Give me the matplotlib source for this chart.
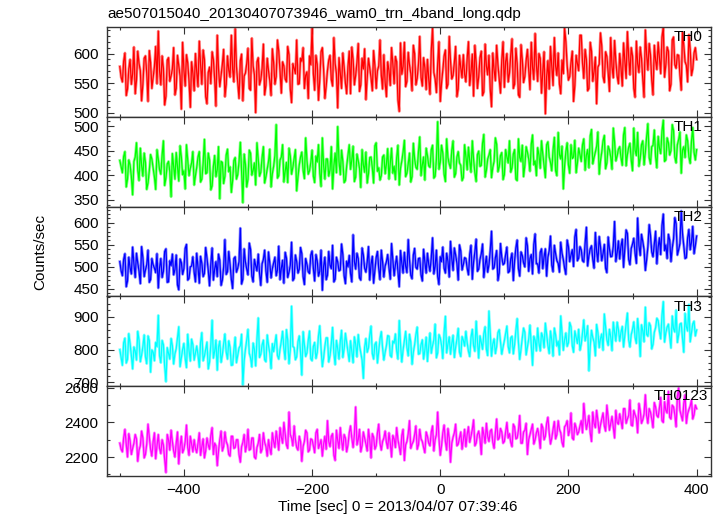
import numpy as np
import matplotlib
matplotlib.use('Agg')
import matplotlib.pyplot as plt
import matplotlib.ticker as mticker

plt.rcParams['font.family'] = ['Liberation Sans', 'DejaVu Sans']

# bin times [sec]; values every 2 s
# (*_even at -500, -496, ..., 400 and *_odd at -498, -494, ..., 398)
time = np.arange(-500, 401, 2)

th0_even = [578, 552, 601, 540, 590, 566, 532, 604, 571, 548, 596, 519, 585, 560, 612,
            638, 547, 575, 528, 593, 562, 610, 541, 580, 506, 572, 598, 553, 586, 537,
            569, 621, 548, 590, 515, 577, 603, 556, 631, 544, 582, 527, 596, 560, 574,
            642, 551, 588, 520, 567, 609, 538, 579, 500, 593, 556, 616, 546, 571, 529,
            585, 561, 604, 533, 579, 552, 598, 517, 575, 623, 549, 587, 541, 569, 596,
            644, 538, 582, 556, 610, 524, 571, 597, 545, 583, 508, 566, 601, 550, 578,
            532, 590, 563, 617, 547, 574, 522, 592, 559, 605, 541, 579, 564, 598, 527,
            571, 610, 549, 586, 502, 565, 619, 553, 581, 537, 600, 558, 629, 545, 576,
            590, 531, 644, 557, 583, 519, 572, 606, 548, 588, 563, 612, 540, 576, 598,
            552, 620, 569, 528, 585, 561, 604, 535, 579, 597, 510, 572, 614, 556, 589,
            543, 600, 567, 625, 548, 583, 526, 590, 561, 607, 539, 577, 634, 553, 592,
            570, 498, 588, 612, 546, 579, 601, 532, 566, 620, 555, 585, 519, 597, 571,
            631, 558, 590, 541, 604, 570, 515, 582, 613, 551, 595, 536, 578, 622, 562,
            600, 545, 587, 637, 564, 596, 526, 583, 611, 557, 640, 572, 598, 530, 589,
            619, 566, 645, 581, 604, 548, 628, 575, 597, 538, 614, 580, 632, 563, 601,
            590]
th0_odd = [560, 587, 529, 574, 548, 611, 555, 583, 520, 592, 567, 605, 541, 578, 549,
           571, 596, 513, 589, 553, 574, 530, 597, 562, 619, 545, 584, 509, 567, 600,
           544, 582, 606, 527, 568, 549, 590, 511, 574, 563, 607, 548, 572, 631, 552,
           578, 524, 599, 562, 583, 541, 626, 564, 586, 547, 575, 530, 592, 554, 608,
           548, 623, 570, 586, 557, 612, 540, 583, 566, 548, 592, 610, 563, 524, 581,
           566, 597, 521, 603, 573, 545, 589, 556, 627, 566, 593, 541, 577, 532, 604,
           611, 547, 585, 536, 592, 608, 559, 575, 537, 580, 571, 623, 540, 551, 586,
           546, 583, 595, 521, 618, 578, 544, 602, 566, 614, 547, 582, 560, 593, 539,
           557, 605, 568, 534, 620, 550, 596, 541, 629, 557, 585, 527, 597, 559, 565,
           592, 546, 599, 614, 541, 593, 529, 616, 564, 540, 601, 554, 581, 533, 620,
           586, 552, 598, 541, 609, 530, 615, 551, 588, 572, 619, 556, 581, 600, 533,
           603, 561, 540, 578, 627, 563, 548, 589, 643, 580, 561, 604, 546, 583, 631,
           584, 607, 537, 619, 553, 594, 577, 635, 561, 603, 568, 627, 559, 587, 549,
           576, 618, 558, 595, 610, 541, 621, 568, 592, 526, 599, 617, 555, 614, 573,
           592, 628, 560, 611, 537, 623, 581, 598, 564, 636, 586, 552, 607, 574, 610]

th1_even = [430, 405, 448, 392, 421, 360, 437, 410, 455, 398, 426, 384, 442, 415, 371,
            433, 402, 470, 395, 428, 356, 419, 446, 388, 437, 409, 462, 399, 425, 380,
            416, 448, 392, 473, 405, 431, 378, 440, 411, 352, 426, 398, 453, 417, 389,
            436, 401, 467, 344, 422, 392, 445, 410, 380, 431, 406, 458, 397, 428, 376,
            418, 503, 399, 437, 386, 426, 455, 402, 434, 368, 421, 447, 393, 430, 409,
            451, 385, 427, 404, 476, 392, 433, 411, 372, 445, 499, 401, 428, 389, 440,
            412, 459, 396, 430, 375, 421, 447, 403, 437, 384, 466, 415, 399, 441, 423,
            392, 455, 418, 436, 380, 429, 471, 404, 445, 397, 433, 412, 478, 421, 390,
            440, 416, 461, 398, 509, 426, 445, 387, 436, 414, 470, 403, 448, 420, 395,
            438, 457, 406, 432, 387, 449, 420, 483, 410, 441, 395, 428, 463, 417, 446,
            401, 437, 470, 415, 452, 389, 436, 461, 420, 447, 408, 482, 429, 456, 414,
            443, 395, 468, 426, 451, 409, 487, 433, 372, 448, 421, 462, 437, 405, 455,
            428, 474, 441, 415, 493, 436, 459, 402, 447, 481, 425, 452, 412, 468, 439,
            458, 420, 497, 442, 465, 409, 451, 487, 434, 470, 447, 505, 423, 461, 438,
            479, 444, 512, 431, 466, 450, 491, 425, 473, 404, 458, 482, 437, 469, 447,
            452]
th1_odd = [417, 438, 376, 431, 397, 428, 466, 389, 420, 445, 371, 409, 433, 396, 452,
           411, 441, 379, 423, 407, 444, 392, 417, 460, 401, 372, 430, 414, 448, 399,
           437, 386, 424, 403, 445, 370, 418, 397, 458, 428, 383, 441, 407, 365, 430,
           392, 427, 409, 443, 376, 451, 400, 425, 466, 398, 436, 384, 412, 453, 403,
           440, 394, 431, 462, 408, 385, 439, 416, 452, 397, 437, 410, 476, 402, 426,
           398, 439, 462, 377, 420, 433, 398, 458, 419, 405, 428, 451, 385, 419, 462,
           431, 387, 443, 414, 452, 406, 384, 436, 415, 460, 408, 390, 437, 403, 454,
           425, 404, 391, 461, 414, 447, 397, 423, 386, 465, 416, 448, 399, 437, 455,
           419, 452, 394, 433, 412, 461, 402, 474, 423, 451, 396, 437, 425, 389, 462,
           411, 429, 470, 405, 442, 418, 465, 396, 433, 452, 416, 476, 407, 440, 391,
           452, 425, 406, 443, 392, 474, 428, 397, 458, 433, 463, 421, 399, 441, 470,
           419, 462, 437, 409, 477, 399, 442, 459, 418, 466, 404, 434, 471, 425, 441,
           462, 410, 452, 480, 423, 447, 488, 429, 470, 413, 459, 437, 496, 429, 453,
           436, 482, 419, 457, 431, 496, 440, 418, 462, 421, 478, 436, 458, 492, 415,
           455, 490, 428, 476, 441, 503, 437, 462, 488, 451, 436, 470, 424, 497, 431]

th2_even = [512, 480, 530, 468, 498, 545, 476, 509, 462, 521, 493, 538, 471, 505, 487,
            452, 519, 490, 541, 466, 503, 482, 527, 448, 510, 496, 551, 474, 502, 488,
            531, 463, 508, 485, 520, 457, 543, 495, 478, 515, 470, 562, 489, 506, 451,
            523, 497, 588, 472, 511, 482, 540, 466, 503, 529, 458, 517, 491, 534, 475,
            509, 480, 547, 497, 463, 520, 488, 556, 474, 512, 495, 530, 460, 506, 485,
            536, 468, 514, 490, 447, 522, 481, 504, 549, 472, 511, 493, 528, 462, 500,
            485, 573, 495, 519, 470, 527, 488, 546, 506, 463, 521, 496, 538, 477, 512,
            498, 553, 480, 524, 455, 509, 533, 487, 516, 473, 542, 495, 520, 468, 511,
            531, 490, 566, 501, 478, 523, 545, 486, 513, 558, 492, 527, 470, 536, 505,
            519, 482, 549, 511, 563, 495, 530, 476, 524, 505, 581, 498, 537, 486, 522,
            508, 545, 490, 531, 514, 561, 479, 526, 500, 548, 519, 484, 575, 507, 533,
            496, 541, 522, 570, 489, 530, 508, 556, 517, 483, 546, 527, 501, 585, 520,
            539, 511, 590, 526, 548, 497, 535, 569, 514, 551, 487, 541, 524, 603, 532,
            518, 563, 540, 576, 505, 552, 531, 611, 526, 558, 492, 546, 572, 523, 581,
            545, 528, 620, 550, 574, 512, 563, 598, 539, 627, 548, 521, 585, 556, 530,
            570]
th2_odd = [491, 517, 455, 522, 484, 507, 531, 490, 546, 478, 505, 465, 519, 497, 530,
           498, 476, 535, 465, 514, 529, 494, 459, 518, 483, 542, 470, 500, 523, 466,
           499, 524, 478, 544, 492, 507, 470, 512, 529, 458, 500, 483, 535, 472, 519,
           488, 512, 461, 541, 495, 554, 479, 517, 491, 486, 507, 538, 465, 509, 496,
           522, 493, 471, 515, 533, 476, 504, 469, 527, 486, 544, 478, 519, 489, 527,
           497, 528, 479, 538, 501, 471, 535, 496, 466, 522, 491, 552, 480, 513, 526,
           466, 512, 531, 475, 543, 497, 511, 470, 524, 492, 535, 471, 512, 502, 528,
           472, 516, 505, 489, 537, 486, 502, 562, 481, 527, 499, 519, 482, 540, 486,
           506, 521, 484, 538, 460, 512, 497, 531, 477, 519, 543, 508, 550, 493, 521,
           497, 529, 472, 534, 490, 517, 552, 504, 488, 537, 495, 521, 469, 553, 505,
           528, 487, 518, 469, 543, 496, 534, 509, 566, 490, 528, 551, 507, 486, 541,
           523, 479, 537, 504, 549, 514, 488, 531, 497, 561, 512, 539, 568, 514, 546,
           514, 553, 502, 541, 517, 578, 512, 546, 530, 497, 568, 523, 547, 512, 559,
           547, 499, 584, 517, 542, 565, 508, 549, 574, 539, 516, 596, 534, 551, 507,
           566, 594, 537, 519, 561, 543, 612, 527, 553, 576, 519, 566, 539, 592, 548]

th3_even = [800, 752, 835, 770, 818, 741, 796, 856, 763, 810, 778, 842, 731, 792, 822,
            905, 760, 815, 702, 788, 834, 756, 803, 870, 774, 819, 745, 797, 832, 768,
            811, 746, 852, 780, 823, 762, 890, 795, 737, 826, 784, 848, 771, 807, 753,
            838, 782, 812, 692, 801, 862, 775, 820, 750, 897, 786, 829, 763, 813, 742,
            794, 845, 771, 826, 803, 861, 757, 933, 806, 778, 842, 722, 815, 790, 857,
            766, 822, 791, 873, 748, 811, 836, 782, 868, 754, 803, 825, 776, 850, 796,
            827, 760, 817, 846, 789, 712, 834, 805, 872, 771, 823, 797, 855, 768, 812,
            841, 777, 820, 796, 889, 762, 828, 806, 847, 755, 815, 869, 788, 830, 799,
            764, 851, 812, 878, 790, 836, 773, 902, 817, 786, 844, 807, 865, 779, 829,
            856, 795, 838, 812, 887, 774, 822, 849, 801, 918, 780, 833, 809, 861, 786,
            827, 872, 790, 841, 815, 895, 770, 836, 853, 807, 875, 752, 829, 866, 796,
            839, 881, 812, 857, 780, 845, 826, 903, 798, 851, 821, 870, 792, 838, 862,
            817, 891, 844, 735, 859, 823, 877, 806, 848, 909, 830, 862, 797, 853, 884,
            826, 871, 845, 912, 808, 862, 837, 895, 779, 858, 930, 841, 873, 816, 867,
            889, 833, 947, 852, 878, 805, 864, 921, 846, 881, 792, 870, 938, 851, 887,
            860]
th3_odd = [776, 821, 759, 849, 782, 808, 768, 829, 783, 845, 757, 828, 799, 766, 809,
           781, 828, 749, 806, 771, 812, 787, 838, 748, 801, 773, 847, 765, 815, 790,
           784, 822, 766, 802, 741, 815, 774, 829, 808, 761, 818, 793, 827, 752, 799,
           760, 805, 847, 766, 829, 789, 747, 801, 832, 776, 814, 769, 845, 789, 818,
           820, 782, 801, 856, 770, 829, 799, 810, 769, 824, 791, 855, 779, 828, 772,
           810, 773, 842, 803, 775, 836, 762, 818, 790, 828, 771, 859, 802, 822, 764,
           795, 839, 778, 812, 768, 807, 792, 844, 788, 816, 759, 833, 805, 792, 843,
           782, 826, 848, 771, 816, 799, 856, 781, 823, 792, 846, 786, 815, 771, 838,
           810, 789, 830, 775, 846, 813, 852, 790, 839, 818, 776, 832, 792, 840, 811,
           821, 779, 862, 795, 826, 842, 801, 870, 782, 846, 817, 788, 852, 823, 808,
           850, 810, 836, 787, 858, 822, 801, 866, 784, 832, 813, 841, 796, 821, 851,
           806, 846, 788, 829, 866, 811, 784, 849, 830, 810, 883, 812, 857, 819, 798,
           852, 827, 873, 811, 837, 781, 852, 834, 798, 871, 813, 839, 884, 826, 862,
           853, 808, 879, 830, 846, 885, 819, 851, 876, 824, 847, 882, 802, 853, 896,
           856, 905, 823, 869, 842, 903, 854, 822, 878, 834, 911, 857, 824, 879, 842]

th0123_even = [2280, 2230, 2360, 2200, 2295, 2250, 2330, 2175, 2265, 2310, 2215, 2390, 2245, 2290, 2190,
               2330, 2220, 2270, 2110, 2300, 2355, 2235, 2280, 2160, 2320, 2245, 2385, 2210, 2275, 2300,
               2225, 2340, 2260, 2195, 2310, 2245, 2370, 2280, 2150, 2300, 2235, 2345, 2270, 2205, 2320,
               2255, 2300, 2170, 2285, 2230, 2360, 2245, 2310, 2190, 2280, 2225, 2340, 2260, 2300, 2215,
               2290, 2350, 2240, 2315, 2400, 2270, 2460, 2310, 2380, 2255, 2320, 2175, 2290, 2340, 2240,
               2300, 2225, 2360, 2275, 2205, 2320, 2410, 2260, 2335, 2180, 2295, 2370, 2240, 2310, 2270,
               2380, 2255, 2490, 2300, 2230, 2345, 2275, 2360, 2195, 2315, 2265, 2390, 2240, 2310, 2285,
               2340, 2200, 2305, 2370, 2260, 2325, 2180, 2290, 2410, 2275, 2330, 2245, 2360, 2290, 2225,
               2320, 2265, 2380, 2300, 2460, 2210, 2340, 2290, 2365, 2170, 2315, 2390, 2275, 2345, 2300,
               2260, 2375, 2320, 2415, 2280, 2350, 2215, 2330, 2395, 2290, 2360, 2250, 2420, 2310, 2345,
               2290, 2400, 2335, 2260, 2375, 2310, 2440, 2280, 2355, 2215, 2330, 2390, 2300, 2365, 2250,
               2370, 2320, 2430, 2275, 2360, 2305, 2410, 2340, 2260, 2385, 2325, 2455, 2300, 2370, 2345,
               2410, 2510, 2360, 2440, 2290, 2395, 2470, 2340, 2420, 2380, 2500, 2355, 2435, 2310, 2400,
               2450, 2365, 2480, 2420, 2530, 2380, 2445, 2340, 2470, 2415, 2560, 2395, 2460, 2370, 2490,
               2430, 2545, 2400, 2470, 2580, 2420, 2490, 2375, 2600, 2440, 2510, 2395, 2475, 2530, 2445,
               2480]
th0123_odd = [2245, 2310, 2275, 2335, 2215, 2280, 2305, 2240, 2350, 2195, 2275, 2320, 2205, 2340, 2265,
              2250, 2300, 2185, 2330, 2240, 2290, 2200, 2345, 2260, 2225, 2290, 2255, 2320, 2230, 2250,
              2280, 2210, 2305, 2235, 2270, 2325, 2215, 2265, 2235, 2350, 2260, 2290, 2215, 2320, 2250,
              2300, 2215, 2260, 2330, 2270, 2240, 2310, 2200, 2255, 2330, 2245, 2285, 2205, 2250, 2340,
              2255, 2300, 2370, 2280, 2335, 2250, 2330, 2265, 2300, 2240, 2290, 2260, 2355, 2230, 2305,
              2265, 2340, 2250, 2300, 2275, 2245, 2290, 2320, 2210, 2355, 2250, 2295, 2330, 2230, 2340,
              2310, 2330, 2270, 2360, 2265, 2310, 2235, 2300, 2335, 2245, 2340, 2280, 2290, 2350, 2250,
              2280, 2325, 2255, 2300, 2215, 2360, 2270, 2335, 2250, 2290, 2380, 2270, 2305, 2255, 2345,
              2280, 2345, 2235, 2330, 2305, 2265, 2385, 2240, 2310, 2280, 2340, 2265, 2310, 2245, 2360,
              2330, 2285, 2360, 2265, 2330, 2305, 2370, 2280, 2320, 2350, 2285, 2340, 2300, 2365, 2280,
              2345, 2310, 2285, 2390, 2305, 2355, 2280, 2345, 2395, 2300, 2360, 2275, 2340, 2320, 2390,
              2300, 2395, 2340, 2310, 2405, 2330, 2360, 2285, 2375, 2410, 2355, 2310, 2395, 2330, 2380,
              2340, 2425, 2395, 2340, 2460, 2370, 2410, 2385, 2455, 2350, 2430, 2395, 2375, 2470, 2390,
              2410, 2480, 2395, 2440, 2385, 2470, 2425, 2510, 2395, 2450, 2440, 2480, 2420, 2515, 2440,
              2485, 2410, 2520, 2455, 2430, 2500, 2445, 2550, 2470, 2410, 2560, 2450, 2495, 2420, 2500]

names = ['TH0', 'TH1', 'TH2', 'TH3', 'TH0123']
even_vals = [th0_even, th1_even, th2_even, th3_even, th0123_even]
odd_vals = [th0_odd, th1_odd, th2_odd, th3_odd, th0123_odd]
colors = ['#ff0000', '#00ff00', '#0000ff', '#00ffff', '#ff00ff']
ylims = [(493, 645), (336, 519), (433, 637), (688, 963), (2090, 2610)]
major_step = [50, 50, 50, 100, 200]
minor_step = [10, 10, 10, 20, 100]

fig, axes = plt.subplots(5, 1, sharex=True, figsize=(7.23, 5.16), dpi=100)
fig.subplots_adjust(left=0.148, right=0.983, top=0.9477, bottom=0.0775, hspace=0)

for i, ax in enumerate(axes):
    rate = np.empty(len(time))
    rate[0::2] = even_vals[i]
    rate[1::2] = odd_vals[i]
    # light halo + solid core, like the qdp error bars over the data line
    ax.plot(time, rate, color=colors[i], lw=2.0, alpha=0.45)
    ax.plot(time, rate, color=colors[i], lw=0.9)
    ax.set_ylim(*ylims[i])
    ax.set_xlim(-520, 422)
    ax.yaxis.set_major_locator(mticker.MultipleLocator(major_step[i]))
    ax.yaxis.set_minor_locator(mticker.MultipleLocator(minor_step[i]))
    ax.xaxis.set_major_locator(mticker.MultipleLocator(200))
    ax.xaxis.set_minor_locator(mticker.MultipleLocator(100))
    ax.tick_params(which='both', direction='in', top=True, right=True,
                   labelsize=11, width=0.8, color='#333333')
    ax.tick_params(which='major', length=5)
    ax.tick_params(which='minor', length=2.5)
    ax.tick_params(axis='y', pad=6)
    ax.tick_params(axis='x', pad=5)
    for s in ax.spines.values():
        s.set_linewidth(1.0)
        s.set_color('#333333')
    xr = 0.995 if names[i] == 'TH0123' else 0.987
    ax.text(xr, 0.965, names[i], transform=ax.transAxes, ha='right', va='top',
            fontsize=11)

fig.text(0.148, 0.973, 'ae507015040_20130407073946_wam0_trn_4band_long.qdp',
         ha='left', va='center', fontsize=11)
fig.text(0.055, 0.5126, 'Counts/sec', rotation=90, ha='center', va='center',
         fontsize=11)
fig.text(0.55, 0.017, 'Time [sec] 0 = 2013/04/07 07:39:46', ha='center',
         va='center', fontsize=11)

fig.savefig('out.png', dpi=100)
